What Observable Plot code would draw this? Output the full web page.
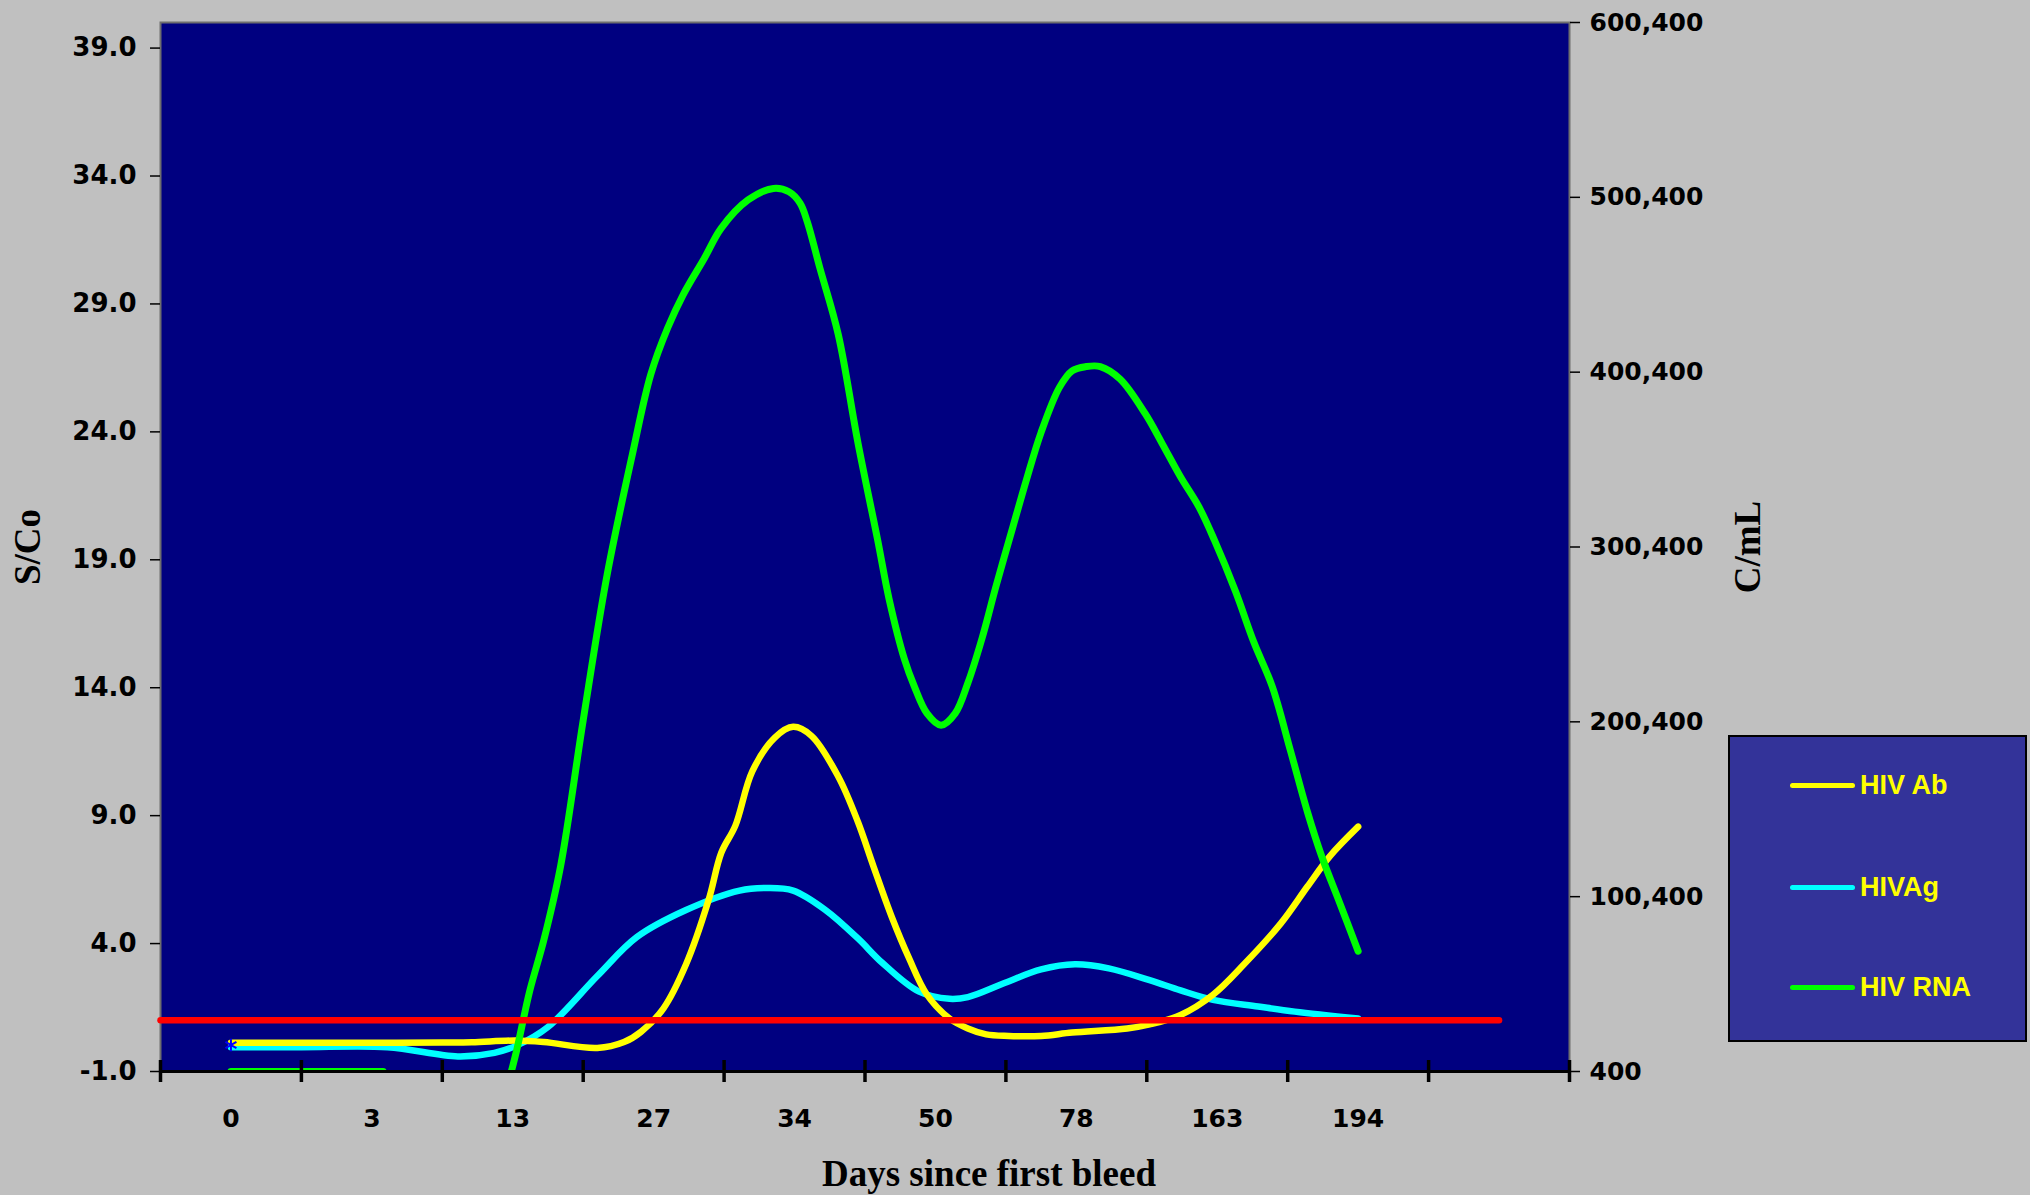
<!DOCTYPE html>
<html><head><meta charset="utf-8">
<script src="https://cdn.jsdelivr.net/npm/d3@7"></script>
<script src="https://cdn.jsdelivr.net/npm/@observablehq/plot@0.6"></script>
<style>
html,body{margin:0;padding:0;background:#c0c0c0;}
#wrap{position:relative;width:2030px;height:1195px;overflow:hidden;}
#chart{position:absolute;left:0;top:0;}
#legend{position:absolute;left:1728px;top:735px;width:299px;height:307px;background:#333399;border:2px solid #000;box-sizing:border-box;}
.item{position:absolute;left:0;height:0;width:100%;}
.sw{position:absolute;left:60px;width:65px;height:5px;border-radius:3px;top:-2.5px}
.lab{position:absolute;left:130px;top:0;transform:translateY(-50%);font:bold 27px "Liberation Sans",Arial,sans-serif;color:#ffff00;white-space:nowrap}
</style></head><body><div id="wrap"><div id="chart"></div><div id="legend"></div></div>
<script>
// Category labels (days since first bleed); tenth slot is blank
const dayLabels = ["0","3","13","27","34","50","78","163","194",""];

// HIV Ab (S/Co, left axis) sampled along the curve, x = category position
const abX = [0,0.5,1.0,1.5,1.71,2.02,2.22,2.6,2.79,2.91,3.07,3.23,3.39,3.48,3.58,3.70,3.86,3.99,4.12,4.31,4.45,4.56,4.69,4.81,4.94,5.10,5.23,5.36,5.52,5.75,5.97,6.36,6.52,6.74,6.97,7.19,7.45,7.64,7.80,8.00];
const abY = [0.12,0.12,0.12,0.13,0.14,0.21,0.15,-0.08,0.15,0.55,1.47,3.19,5.7,7.55,8.61,10.73,12.05,12.47,12.12,10.53,8.75,7.02,5.04,3.46,2.0,1.07,0.68,0.45,0.39,0.39,0.52,0.68,0.84,1.21,2.0,3.19,4.78,6.23,7.42,8.57];

// HIVAg (S/Co, left axis)
const agX = [0,0.5,1.11,1.61,1.87,2.03,2.25,2.6,2.88,3.23,3.61,3.80,3.99,4.22,4.45,4.62,4.88,5.10,5.23,5.49,5.75,5.99,6.23,6.52,6.74,6.97,7.29,7.55,8.00];
const agY = [-0.05,-0.05,-0.05,-0.41,-0.27,0.02,0.74,2.73,4.25,5.31,6.07,6.17,6.07,5.31,4.2,3.26,2.13,1.84,1.91,2.46,2.99,3.19,3.03,2.57,2.17,1.80,1.54,1.34,1.07];

// HIV RNA (C/mL, right axis); NaN = below the axis minimum (not visible)
const rnaX = [0,0.5,1.0,1.08,1.5,1.99,2.03,2.12,2.22,2.34,2.50,2.67,2.85,2.98,3.10,3.21,3.36,3.48,3.67,3.85,3.96,4.04,4.09,4.18,4.31,4.45,4.59,4.67,4.78,4.85,4.94,5.04,5.14,5.23,5.33,5.43,5.55,5.65,5.75,5.88,5.97,6.07,6.17,6.31,6.49,6.61,6.74,6.87,6.98,7.13,7.26,7.39,7.52,7.64,7.74,7.87,8.00];
const rnaY = [400,400,400,400,NaN,400,13300,46300,75350,118000,201300,284600,353700,399200,425800,444800,465600,482800,498900,505500,503600,497000,486500,459900,422000,360000,304300,271000,236200,220700,205200,198400,205200,222600,248000,278000,312000,340000,366000,391700,401200,403600,403600,396500,376500,359400,340400,323300,304300,274900,245900,220700,183800,148900,123800,96700,69200];

// Cut-off line (S/Co)
const cutoffValue = 1.0;
const cutoffX = [-0.5, 9];

// Axis ticks
const leftTicks = [-1,4,9,14,19,24,29,34,39];
const rightTicks = [400,100400,200400,300400,400400,500400,600400];

const seriesNames = ["HIV Ab","HIVAg","HIV RNA"];
const seriesColors = ["#ffff00","#00ffff","#00ff00"];

// secondary axis mapping onto the primary y scale
const toLeft = d3.scaleLinear().domain([400, 600400]).range([-1, 40]);

const ab = abX.map((x,k)=>({x, y: abY[k]}));
const ag = agX.map((x,k)=>({x, y: agY[k]}));
const rna = rnaX.map((x,k)=>({x, y: isNaN(rnaY[k]) ? NaN : toLeft(rnaY[k])}));
const cutoff = cutoffX.map(x=>({x, y: cutoffValue}));
const catIdx = dayLabels.map((d,i)=>i);
const bounds = d3.range(dayLabels.length + 1).map(i => i - 0.5);

const tickFont = {fontSize: 25, fontWeight: "bold", fontFamily: "DejaVu Sans, sans-serif"};
const leftTickFont = {fontSize: 26, fontWeight: "bold", fontFamily: "DejaVu Sans, sans-serif"};
const titleFont = {fontSize: 37, fontWeight: "bold", fontFamily: "Liberation Serif, serif", fill: "#000"};

const chart = Plot.plot({
  width: 2030, height: 1195,
  marginLeft: 160, marginRight: 461, marginTop: 22, marginBottom: 124,
  style: {background: "transparent", color: "#000", overflow: "visible"},
  x: {domain: [-0.5, 9.5], axis: null},
  y: {domain: [-1, 40], axis: null},
  marks: [
    Plot.frame({fill: "#000080", stroke: "#6e6e6e", strokeWidth: 2}),
    Plot.line(ag, {x: "x", y: "y", stroke: seriesColors[1], strokeWidth: 6.5, curve: "catmull-rom", clip: true}),
    Plot.line(ab, {x: "x", y: "y", stroke: seriesColors[0], strokeWidth: 6.5, curve: "catmull-rom", clip: true}),
    Plot.line(rna, {x: "x", y: "y", stroke: seriesColors[2], strokeWidth: 7, curve: "catmull-rom", clip: true}),
    Plot.line(cutoff, {x: "x", y: "y", stroke: "#ff0000", strokeWidth: 6.5, strokeLinecap: "round"}),
    Plot.dot([ab[0]], {x: "x", y: d => (abY[0] + agY[0]) / 2, symbol: "asterisk", r: 6, stroke: "#0000ff", strokeWidth: 2}),
    Plot.ruleY([-1], {stroke: "#000", strokeWidth: 3}),
    Plot.axisY(leftTicks, {anchor: "left", tickSize: 10, tickPadding: 14, strokeWidth: 1.5,
      tickFormat: d => d.toFixed(1), label: null, ...leftTickFont}),
    Plot.axisY(rightTicks.map(r => toLeft(r)), {anchor: "right", tickSize: 10, tickPadding: 10, strokeWidth: 1.5,
      tickFormat: v => d3.format(",")(Math.round(toLeft.invert(v))), label: null, ...tickFont}),
    Plot.axisX(catIdx, {anchor: "bottom", tickSize: 0, tickPadding: 38,
      tickFormat: i => dayLabels[i], label: null, ...tickFont}),
    Plot.axisX(bounds, {anchor: "bottom", tickSize: 22, dy: -11, strokeWidth: 3.5,
      tickFormat: () => "", label: null}),
    Plot.text(["S/Co"], {text: d => d, frameAnchor: "left", dx: -132, rotate: -90, textAnchor: "middle", ...titleFont}),
    Plot.text(["C/mL"], {text: d => d, frameAnchor: "right", dx: 179, rotate: -90, textAnchor: "middle", ...titleFont}),
    Plot.text(["Days since first bleed"], {text: d => d, frameAnchor: "bottom", dy: 114, dx: 124, textAnchor: "middle", ...titleFont})
  ]
});
document.getElementById("chart").appendChild(chart);

// legend
const legend = document.getElementById("legend");
const itemTops = [48, 150, 250];
seriesNames.forEach((name, k) => {
  const it = document.createElement("div");
  it.className = "item";
  it.style.top = itemTops[k] + "px";
  const sw = document.createElement("div");
  sw.className = "sw";
  sw.style.background = seriesColors[k];
  const lab = document.createElement("div");
  lab.className = "lab";
  lab.textContent = name;
  it.appendChild(sw); it.appendChild(lab);
  legend.appendChild(it);
});
</script>
</body></html>
